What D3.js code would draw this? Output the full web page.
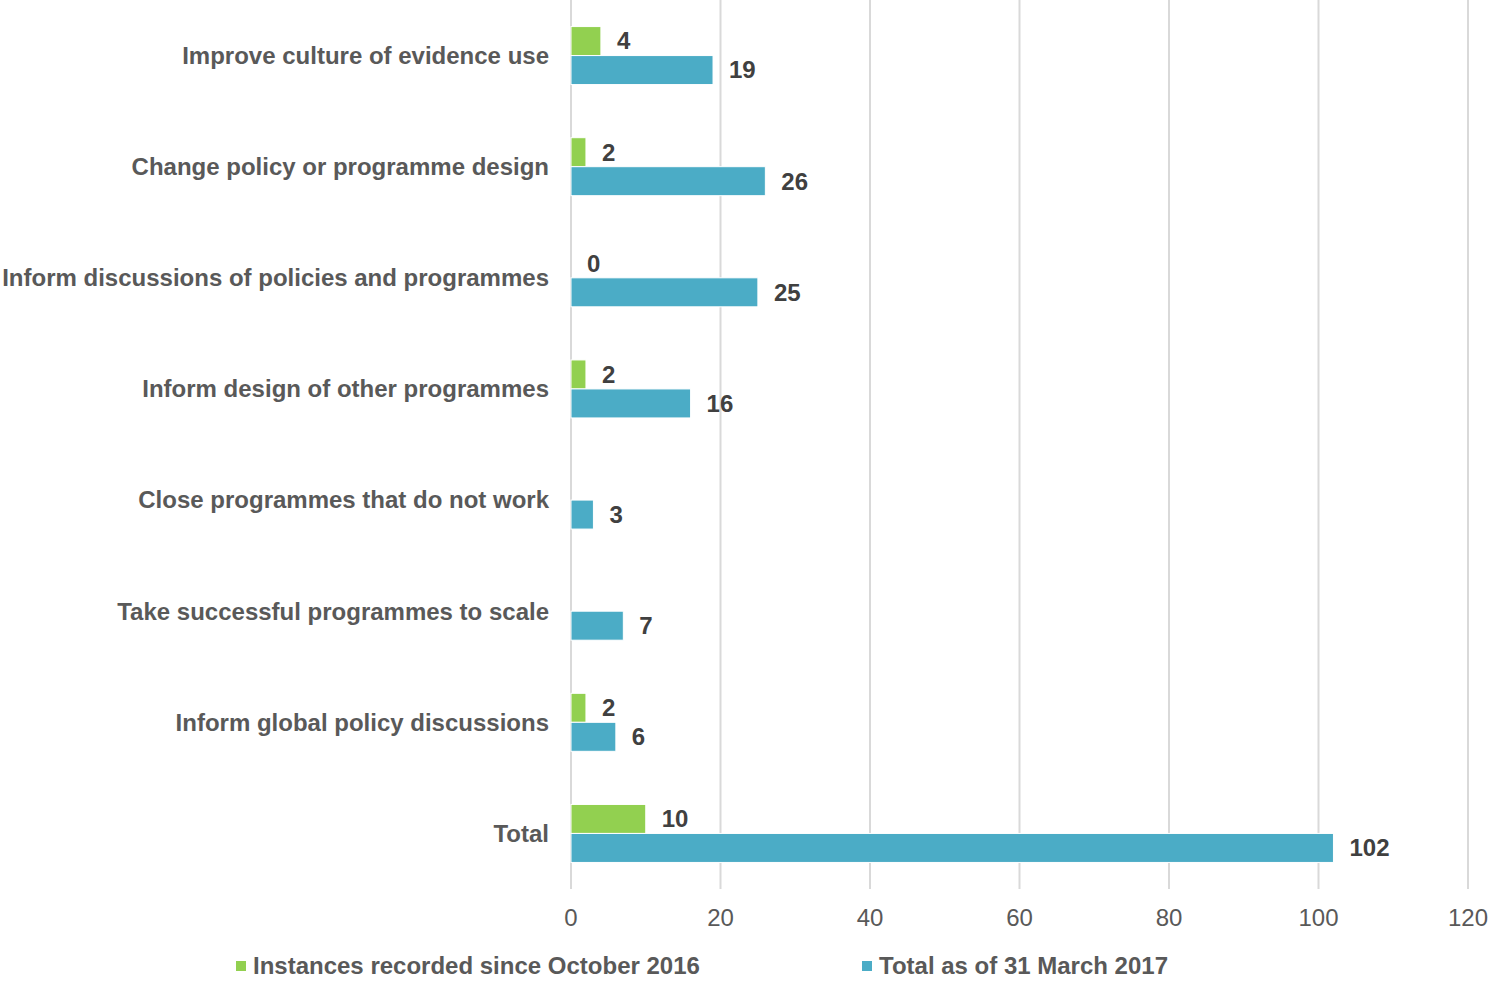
<!DOCTYPE html>
<html>
<head>
<meta charset="utf-8">
<script src="https://cdn.jsdelivr.net/npm/d3@7"></script>
<style>
  body { margin: 0; background: #fff; }
  svg { display: block; font-family: "Liberation Sans", Arial, sans-serif; }
</style>
</head>
<body>
<svg width="1493" height="981"></svg>
<script>
// chart data
const categories = [
  "Improve culture of evidence use",
  "Change policy or programme design",
  "Inform discussions of policies and programmes",
  "Inform design of other programmes",
  "Close programmes that do not work",
  "Take successful programmes to scale",
  "Inform global policy discussions",
  "Total"
];
const sinceOct2016 = [4, 2, 0, 2, null, null, 2, 10];
const totalMar2017 = [19, 26, 25, 16, 3, 7, 6, 102];
const seriesNames = ["Instances recorded since October 2016", "Total as of 31 March 2017"];
const xTicks = [0, 20, 40, 60, 80, 100, 120];

const colors = ["#92d050", "#4bacc6"];

const svg = d3.select("svg");

const x = d3.scaleLinear().domain([0, 120]).range([571, 1468]);
const y = d3.scaleBand().domain(categories).range([0, 889]).padding(0);
const barH = 29;

// gridlines
svg.append("g")
  .selectAll("line")
  .data(xTicks)
  .join("line")
    .attr("x1", d => x(d)).attr("x2", d => x(d))
    .attr("y1", 0).attr("y2", 889)
    .attr("stroke", "#d9d9d9")
    .attr("stroke-width", 2);

// tick labels
svg.append("g")
  .selectAll("text")
  .data(xTicks)
  .join("text")
    .attr("x", d => x(d))
    .attr("y", 918)
    .attr("dy", "0.35em")
    .attr("text-anchor", "middle")
    .attr("fill", "#595959")
    .style("font-size", "24px")
    .text(d => d);

// category labels
svg.append("g")
  .selectAll("text")
  .data(categories)
  .join("text")
    .attr("x", 549)
    .attr("y", d => y(d) + y.bandwidth() / 2)
    .attr("dy", "0.35em")
    .attr("text-anchor", "end")
    .attr("fill", "#595959")
    .style("font-size", "24px")
    .style("font-weight", "bold")
    .text(d => d);

const series = [sinceOct2016, totalMar2017];

series.forEach((vals, si) => {
  const rows = categories.map((c, i) => ({ c, v: vals[i] }));
  const g = svg.append("g");
  const yOff = c => y(c) + y.bandwidth() / 2 - barH + si * barH;

  g.selectAll("rect")
    .data(rows.filter(d => d.v != null && d.v > 0))
    .join("rect")
      .attr("x", x(0))
      .attr("y", d => yOff(d.c))
      .attr("width", d => x(d.v) - x(0))
      .attr("height", barH)
      .attr("fill", colors[si])
      .attr("stroke", "#fff")
      .attr("stroke-width", 1);

  g.selectAll("text")
    .data(rows.filter(d => d.v != null))
    .join("text")
      .attr("x", d => x(d.v) + 16)
      .attr("y", d => yOff(d.c) + barH / 2)
      .attr("dy", "0.35em")
      .attr("fill", "#404040")
      .style("font-size", "24px")
      .style("font-weight", "bold")
      .text(d => d.v);
});

// legend
const legendX = [236, 862];
const legend = svg.append("g")
  .selectAll("g")
  .data(seriesNames)
  .join("g")
    .attr("transform", (d, i) => `translate(${legendX[i]},966)`);

legend.append("rect")
  .attr("x", 0).attr("y", -5)
  .attr("width", 10).attr("height", 10)
  .attr("fill", (d, i) => colors[i]);

legend.append("text")
  .attr("x", 17)
  .attr("dy", "0.35em")
  .attr("fill", "#595959")
  .style("font-size", "24px")
  .style("font-weight", "bold")
  .text(d => d);
</script>
</body>
</html>
